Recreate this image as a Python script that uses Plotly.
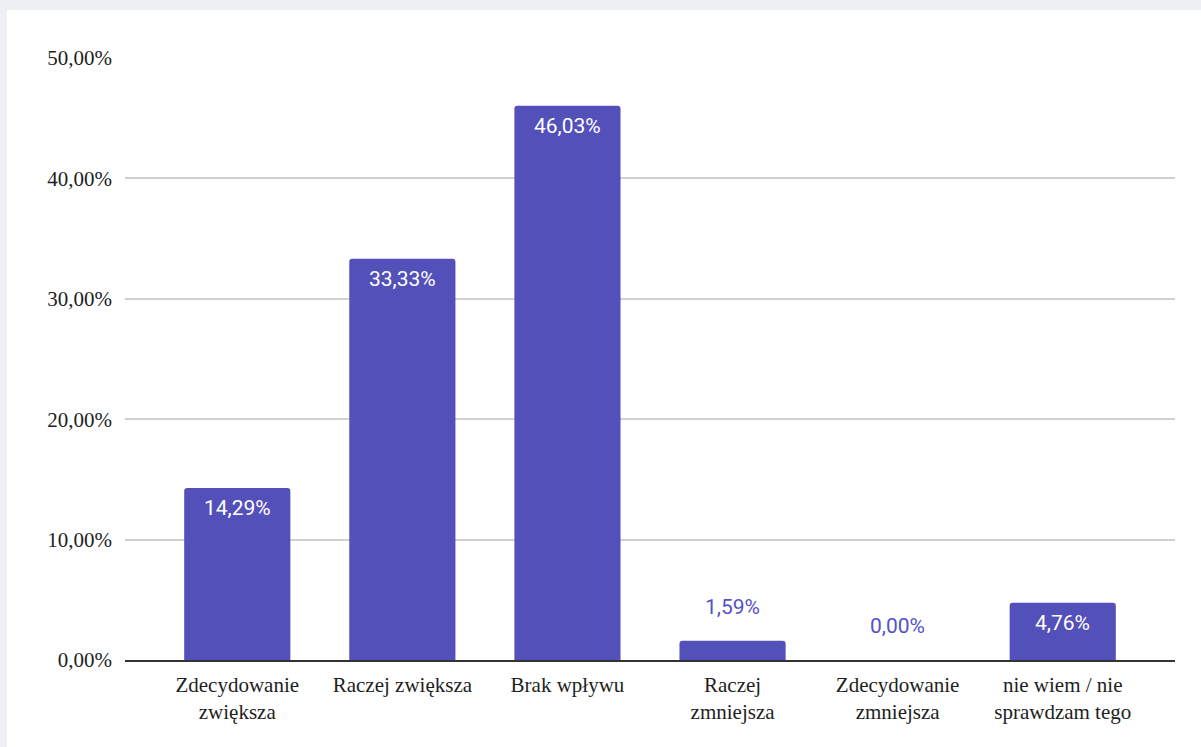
import plotly.graph_objects as go

# Survey answers and their shares (%)
categories = [
    "Zdecydowanie<br>zwiększa",
    "Raczej zwiększa",
    "Brak wpływu",
    "Raczej<br>zmniejsza",
    "Zdecydowanie<br>zmniejsza",
    "nie wiem / nie<br>sprawdzam tego",
]
shares = [14.29, 33.33, 46.03, 1.59, 0.00, 4.76]
share_labels = ["14,29%", "33,33%", "46,03%", "1,59%", "0,00%", "4,76%"]

y_tick_values = [0, 10, 20, 30, 40, 50]
y_tick_labels = ["0,00%", "10,00%", "20,00%", "30,00%", "40,00%", "50,00%"]

BAR_COLOR = "#5350b9"
SMALL_BAR_LIMIT = 3  # bars lower than this get their label above
SERIF = "Liberation Serif, Times New Roman, DejaVu Serif, serif"

fig = go.Figure()
fig.add_trace(go.Bar(
    x=categories,
    y=shares,
    marker=dict(color=BAR_COLOR, line=dict(width=0), cornerradius=3),
    hoverinfo="skip",
))

# Value labels: white inside tall bars, bar-coloured above short ones
for cat, val, lab in zip(categories, shares, share_labels):
    inside = val >= SMALL_BAR_LIMIT
    fig.add_annotation(
        x=cat, y=val, text=lab, showarrow=False,
        xanchor="center", yanchor="middle",
        yshift=-20 if inside else 34,
        font=dict(family="Roboto", size=21,
                  color="#ffffff" if inside else "#5452c9"),
    )

# Light frame around the white card
fig.add_shape(
    type="rect", xref="paper", yref="paper",
    x0=-0.1124, x1=1.03, y0=-0.2, y1=1.0797,
    fillcolor="#ffffff", line=dict(width=0), layer="below",
)

fig.update_layout(
    width=1201, height=747,
    margin=dict(l=125, r=26, t=58, b=87),
    paper_bgcolor="#eff0f5",
    plot_bgcolor="rgba(0,0,0,0)",
    bargap=0.357,
    showlegend=False,
    font=dict(family=SERIF, size=21, color="#1e1e1e"),
    xaxis=dict(
        range=[-0.68, 5.68],
        showgrid=False,
        showline=True, linecolor="#333333", linewidth=1.5,
        ticks="", ticklabelstandoff=5,
        tickfont=dict(family=SERIF, size=21, color="#1e1e1e"),
    ),
    yaxis=dict(
        range=[0, 50],
        tickvals=y_tick_values, ticktext=y_tick_labels,
        showgrid=True, gridcolor="#d0d0d0", gridwidth=1.5,
        zeroline=False, showline=False, ticks="",
        ticklabelstandoff=12,
        tickfont=dict(family=SERIF, size=21, color="#1e1e1e"),
    ),
)

fig.write_html("out.html")
